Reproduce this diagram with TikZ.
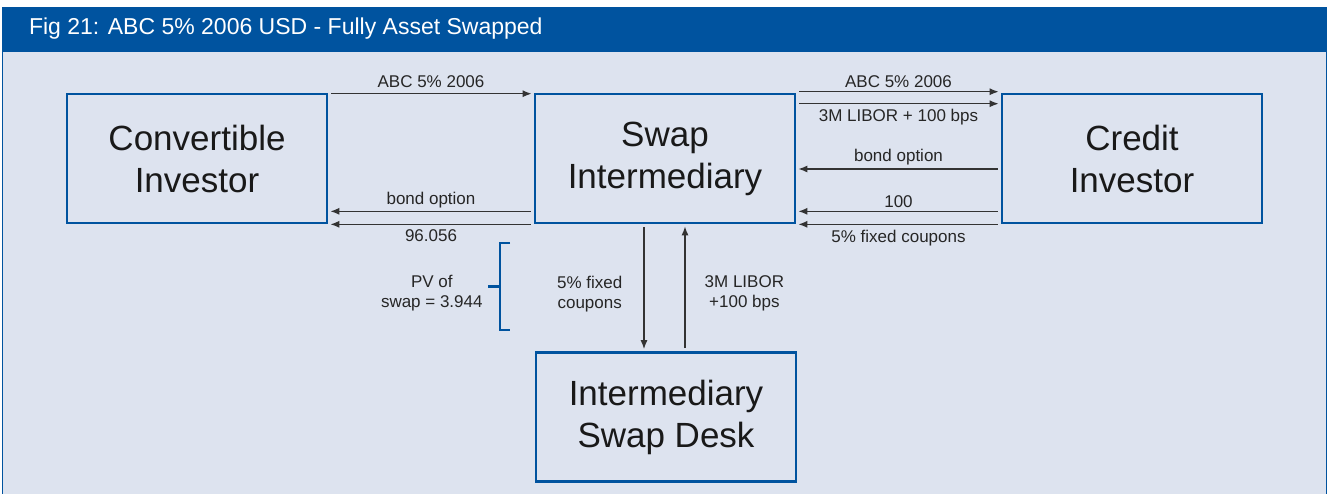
\documentclass[tikz,border=0pt]{standalone}
\usepackage{fontspec}
\setmainfont{Liberation Sans}
\usetikzlibrary{arrows.meta}
\definecolor{figblue}{HTML}{00539F}
\definecolor{figback}{HTML}{DDE3EF}
\definecolor{flowgray}{HTML}{333333}

\begin{document}
\begin{tikzpicture}[x=0.5pt,y=-0.5pt,
  party/.style={draw=figblue,line width=1.3pt,minimum width=130pt,minimum height=64.5pt,
    inner sep=0pt,align=center,text=black!90,font=\fontsize{17.5}{21}\selectfont},
  flow/.style={draw=flowgray,line width=0.7pt,shorten <=1.5pt,shorten >=1pt,
    -{Latex[length=4.5pt,width=3.5pt]}},
  lbl/.style={font=\fontsize{8.5}{10}\selectfont,inner sep=1.5pt,align=center,text=black!85}]
  % frame and title bar
  \useasboundingbox (0,0) rectangle (1332,494);
  \fill[figback] (2,52) rectangle (1327,494);
  \draw[figblue,line width=0.6pt] (2.5,52) -- (2.5,494) (1326.5,52) -- (1326.5,494);
  \fill[figblue] (2,7) rectangle (1327,52);
  \node (title) [anchor=west,text=white,font=\fontsize{11.5}{14}\selectfont] at (22,29)
    {Fig 21: ABC 5\% 2006 USD - Fully Asset Swapped};

  \begin{scope}[every node/.style={party}]
    \node (conv) at (197,158.5) {Convertible\\Investor};
    \node (swap) at (665,158.5) {Swap\\Intermediary};
    \node (credit) at (1132,158.5) {Credit\\Investor};
    \node (desk) at (666,417) {Intermediary\\Swap Desk};
  \end{scope}

  % convertible investor <-> swap intermediary
  \path ([yshift=-0.5pt]conv.north east) edge[flow] node[lbl,above=1pt] {ABC 5\% 2006} ([yshift=-0.5pt]conv.north east -| swap.west);
  \path ([yshift=6.5pt]swap.south west) edge[flow] node[lbl,above] {bond option} ([yshift=6.5pt]swap.south west -| conv.east);
  \path (swap.south west) edge[flow] node[lbl,below=1pt] {96.056} (swap.south west -| conv.east);

  % swap intermediary <-> credit investor
  \path ([yshift=0.5pt]swap.north east) edge[flow] node[lbl,above] {ABC 5\% 2006} ([yshift=0.5pt]swap.north east -| credit.west);
  \path ([yshift=-5.5pt]swap.north east) edge[flow] node[lbl,below=1pt] {3M LIBOR + 100 bps} ([yshift=-5.5pt]swap.north east -| credit.west);
  \path ([yshift=-5.25pt]credit.west) edge[flow] node[lbl,above] {bond option} ([yshift=-5.25pt]credit.west -| swap.east);
  \path ([yshift=6.5pt]credit.south west) edge[flow] node[lbl,above] {100} ([yshift=6.5pt]credit.south west -| swap.east);
  \path (credit.south west) edge[flow] node[lbl,below=1pt] {5\% fixed coupons} (credit.south west -| swap.east);

  % swap intermediary <-> intermediary swap desk
  \path ([xshift=-10.5pt]swap.south) edge[flow] node[lbl,left=9pt,yshift=-3pt] {5\% fixed\\coupons} ([xshift=-10.5pt]swap.south |- desk.north);
  \path ([xshift=10pt]swap.south |- desk.north) edge[flow] node[lbl,right=8pt,yshift=-3pt] {3M LIBOR\\+100 bps} ([xshift=10pt]swap.south);

  % bracket for the swap value
  \draw[figblue,line width=1.3pt] (510,243) -- (500,243) -- (500,330) -- (510,330);
  \draw[figblue,line width=1.3pt] (488,286.5) -- (500,286.5);
  \node (pv) [lbl,anchor=east] at (486,293) {PV of\\swap = 3.944};
\end{tikzpicture}
\end{document}
